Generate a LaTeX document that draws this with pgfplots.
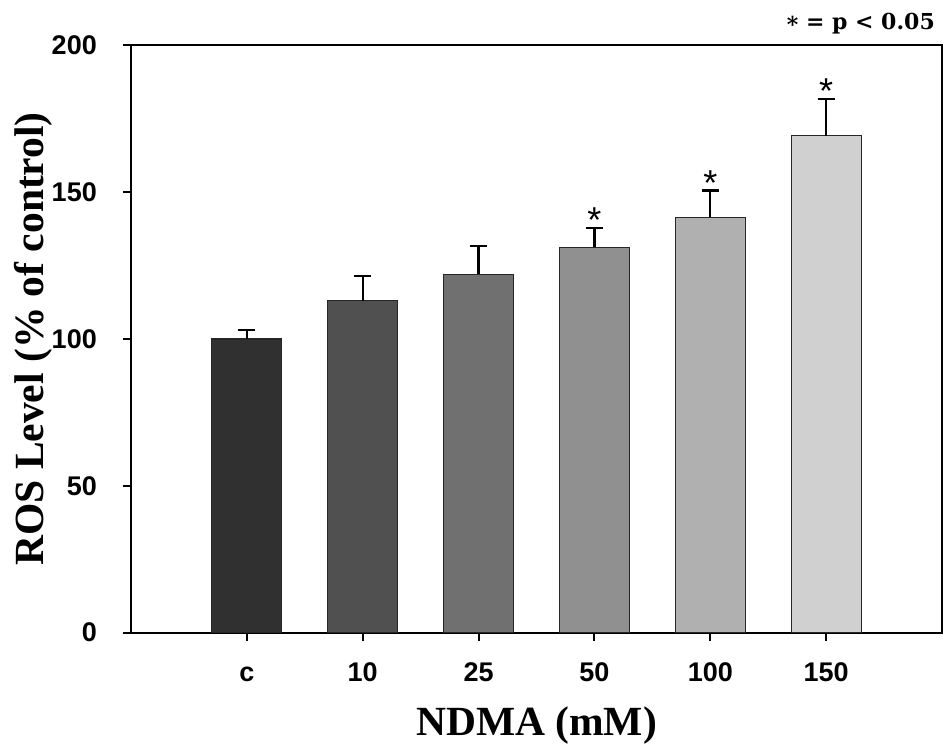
\documentclass[border=0pt]{standalone}
\usepackage{fontspec}
\setmainfont{Liberation Serif}
\newfontfamily\tickfont{Liberation Sans}
\newfontfamily\notefont{DejaVu Serif}
\usepackage{pgfplots}
\pgfplotsset{compat=1.18}
\usetikzlibrary{calc}

\definecolor{b0}{HTML}{303030}
\definecolor{b1}{HTML}{505050}
\definecolor{b2}{HTML}{707070}
\definecolor{b3}{HTML}{909090}
\definecolor{b4}{HTML}{B0B0B0}
\definecolor{b5}{HTML}{D0D0D0}

\pgfplotsset{
  mybar/.style={ybar, bar width=70pt, bar shift=0pt, fill=#1, draw=black!85, line width=1.2pt,
    error bars/y dir=plus, error bars/y explicit,
    error bars/error bar style={line width=2.2pt, black},
    error bars/error mark options={rotate=90, mark size=8.5pt, line width=2.2pt, black}}
}

\begin{document}
\begin{tikzpicture}
\begin{axis}[
  width=811pt, height=587pt, scale only axis,
  xmin=-1, xmax=6, ymin=0, ymax=200,
  xtick={0,1,2,3,4,5}, xticklabels={c,10,25,50,100,150},
  ytick={0,50,100,150,200}, yticklabels={0,50,100,150,200},
  tick align=outside, xtick pos=bottom, ytick pos=left,
  major tick length=8pt,
  tick style={black, line width=2pt},
  axis line style={line width=2pt, black},
  /pgf/number format/assume math mode=true,
  ticklabel style={font=\tickfont\bfseries\fontsize{27}{27}\selectfont, inner sep=0pt},
  xticklabel style={anchor=base, yshift=-41.4pt},
  yticklabel style={anchor=east, xshift=-26pt},
  xlabel={NDMA (mM)}, ylabel={ROS Level (\% of control)},
  label style={font=\bfseries\fontsize{41.5}{41.5}\selectfont, inner sep=0pt},
  xlabel style={at={(axis description cs:0.5,-0.175)}, anchor=base},
  ylabel style={at={(axis description cs:-0.1085,0.5)}, anchor=base},
  clip=false,
]
\addplot[mybar=b0] coordinates {(0,100) +- (0,3.0)};
\addplot[mybar=b1] coordinates {(1,113) +- (0,8.5)};
\addplot[mybar=b2] coordinates {(2,122) +- (0,9.6)};
\addplot[mybar=b3] coordinates {(3,131.3) +- (0,6.6)};
\addplot[mybar=b4] coordinates {(4,141.5) +- (0,9.1)};
\addplot[mybar=b5] coordinates {(5,169.3) +- (0,12.5)};
\addplot[draw=none, mark=none, nodes near coords={*},
  nodes near coords style={inner sep=0pt, yshift=-5pt, black, font=\tickfont\fontsize{36}{36}\selectfont}]
  coordinates {(3,137.9) (4,150.6) (5,181.8)};
\end{axis}
\node[anchor=base east, inner sep=0pt, font=\notefont\bfseries\fontsize{22}{22}\selectfont]
  at ([xshift=-7pt,yshift=16pt]current axis.north east) {\raisebox{-3pt}{*} = p < 0.05};
\path ([xshift=-131pt,yshift=-109.7pt]current axis.south west) rectangle ([xshift=4pt,yshift=45.5pt]current axis.north east);
\end{tikzpicture}
\end{document}
